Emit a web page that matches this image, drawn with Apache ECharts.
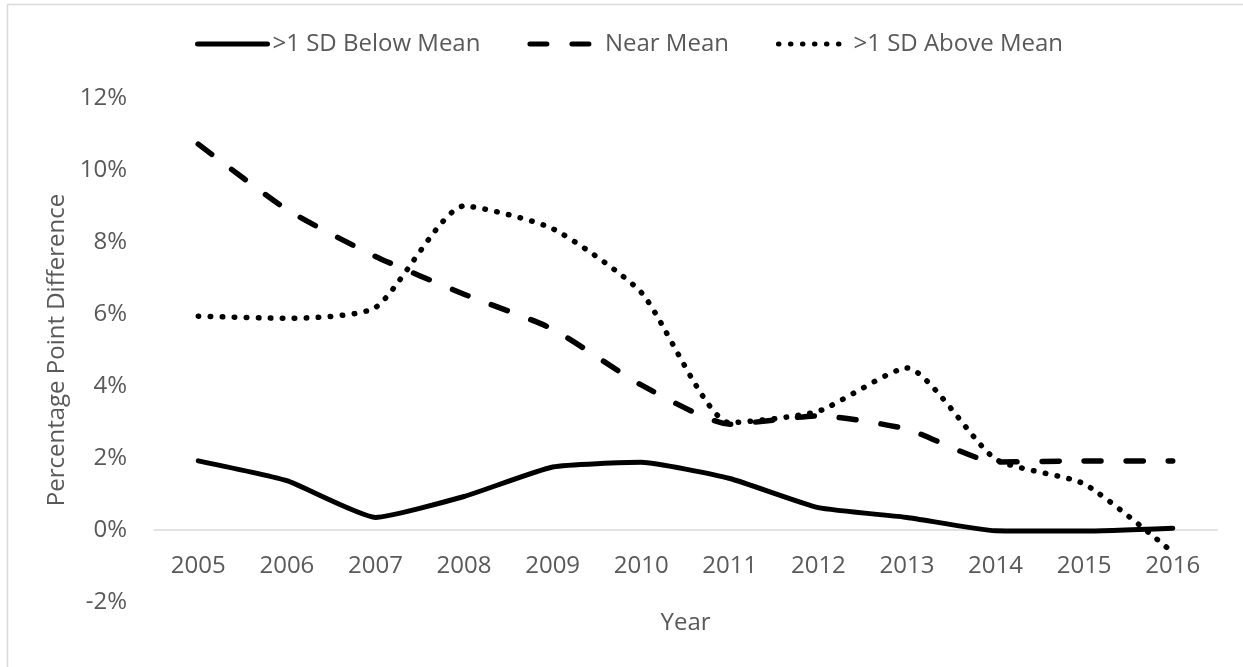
<!DOCTYPE html>
<html>
<head>
<meta charset="utf-8">
<script src="https://cdn.jsdelivr.net/npm/echarts@6/dist/echarts.min.js"></script>
<style>
html,body{margin:0;padding:0;background:#fff;}
#chart{width:1243px;height:667px;}
</style>
</head>
<body>
<div id="chart"></div>
<script>
var years = ['2005','2006','2007','2008','2009','2010','2011','2012','2013','2014','2015','2016'];
var belowMean = [1.92, 1.37, 0.35, 0.93, 1.75, 1.88, 1.43, 0.62, 0.35, -0.02, -0.03, 0.05];
var nearMean  = [10.72, 8.9, 7.6, 6.55, 5.58, 4.03, 2.94, 3.17, 2.8, 1.89, 1.92, 1.92];
var aboveMean = [5.94, 5.88, 6.18, 9.0, 8.37, 6.6, 2.98, 3.3, 4.5, 1.97, 1.28, -0.62];
var seriesNames = ['>1 SD Below Mean', 'Near Mean', '>1 SD Above Mean'];

var FONT = '"Open Sans", "Noto Sans", sans-serif';
var TXT = '#595959';
var chart = echarts.init(document.getElementById('chart'), null, {renderer:'canvas'});
chart.setOption({
  animation: false,
  backgroundColor: '#ffffff',
  graphic: [{
    type: 'rect', left: 5, top: 2, silent: true,
    shape: {width: 1300, height: 700},
    style: {fill: 'none', stroke: '#d9d9d9', lineWidth: 1.5}
  }],
  legend: {
    left: 190, top: 27,
    itemWidth: 70, itemHeight: 14, itemGap: 47,
    textStyle: {fontFamily: FONT, fontSize: 24, color: TXT},
    lineStyle: {width: 5},
    itemStyle: {color: 'rgba(0,0,0,0)', borderColor: 'rgba(0,0,0,0)', borderWidth: 0},
    data: seriesNames
  },
  grid: {left: 154, right: 26, top: 98, bottom: 65, containLabel: false, outerBoundsMode: 'none'},
  xAxis: {
    type: 'category', data: years, boundaryGap: true,
    offset: -72,
    name: 'Year', nameLocation: 'middle', nameGap: 81,
    nameTextStyle: {fontFamily: FONT, fontSize: 24, color: TXT},
    axisLine: {onZero: false, lineStyle: {color: '#d9d9d9', width: 1.5}},
    axisTick: {show: false},
    axisLabel: {fontFamily: FONT, fontSize: 24, color: TXT, margin: 24}
  },
  yAxis: {
    type: 'value', min: -2, max: 12, interval: 2,
    name: 'Percentage Point Difference', nameLocation: 'middle', nameGap: 84,
    nameTextStyle: {fontFamily: FONT, fontSize: 24, color: TXT},
    axisLine: {show: false}, axisTick: {show: false}, splitLine: {show: false},
    axisLabel: {fontFamily: FONT, fontSize: 24, color: TXT, margin: 27, formatter: '{value}%'}
  },
  series: [
    {name: seriesNames[0], type: 'line', data: belowMean, symbol: 'none', smooth: 0.15,
     lineStyle: {color: '#000', width: 5, type: 'solid', cap: 'round', join: 'round'}, itemStyle: {color: '#000'}},
    {name: seriesNames[1], type: 'line', data: nearMean, symbol: 'none', smooth: 0.2,
     lineStyle: {color: '#000', width: 5.5, type: [17, 25], cap: 'round', join: 'round'}, itemStyle: {color: '#000'}},
    {name: seriesNames[2], type: 'line', data: aboveMean, symbol: 'none', smooth: 0.2,
     lineStyle: {color: '#000', width: 5.5, type: [0.5, 11.5], cap: 'round', join: 'round'}, itemStyle: {color: '#000'}}
  ]
});
</script>
</body>
</html>
